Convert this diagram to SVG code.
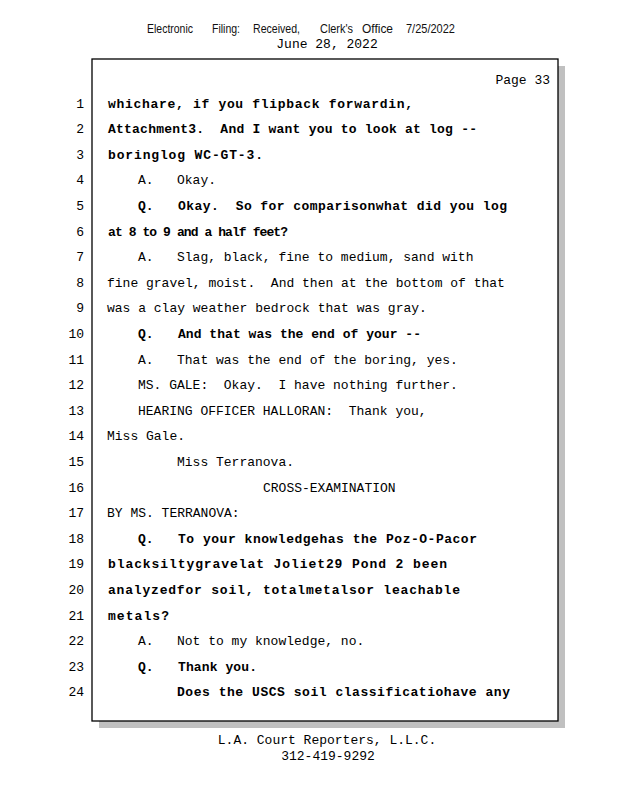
<svg xmlns="http://www.w3.org/2000/svg" width="618" height="800" viewBox="0 0 618 800" xml:space="preserve">
<style>
text{white-space:pre}
.m{font-family:"Liberation Mono","DejaVu Sans Mono",monospace;font-size:13px;fill:#000}
.b{font-family:"Liberation Mono","DejaVu Sans Mono",monospace;font-size:13px;font-weight:bold;fill:#000}
.n{font-family:"Liberation Mono","DejaVu Sans Mono",monospace;font-size:13px;fill:#000;text-anchor:end}
.h{font-family:"Liberation Sans",Arial,sans-serif;font-size:13px;fill:#111}
</style>
<rect width="618" height="800" fill="#fff"/>
<g id="header">
<text class="h" x="147" y="33" textLength="46" lengthAdjust="spacingAndGlyphs">Electronic</text>
<text class="h" x="212" y="33" textLength="28" lengthAdjust="spacingAndGlyphs">Filing:</text>
<text class="h" x="253" y="33" textLength="47" lengthAdjust="spacingAndGlyphs">Received,</text>
<text class="h" x="320" y="33" textLength="33" lengthAdjust="spacingAndGlyphs">Clerk's</text>
<text class="h" x="362" y="33" textLength="31" lengthAdjust="spacingAndGlyphs">Office</text>
<text class="h" x="406" y="33" textLength="49" lengthAdjust="spacingAndGlyphs">7/25/2022</text>
<text class="m" x="327" y="48" text-anchor="middle">June 28, 2022</text>
</g>
<g id="page-box">
<rect x="99" y="66" width="466" height="662" fill="#c0c0c0"/>
<rect x="92" y="59" width="466" height="662" fill="#fff" stroke="#000" stroke-width="1.3"/>
<text class="m" x="550" y="84" text-anchor="end">Page 33</text>
</g>
<g id="line-numbers">
<text class="n" x="84" y="107.5">1</text>
<text class="n" x="84" y="133.1">2</text>
<text class="n" x="84" y="158.7">3</text>
<text class="n" x="84" y="184.3">4</text>
<text class="n" x="84" y="209.9">5</text>
<text class="n" x="84" y="235.5">6</text>
<text class="n" x="84" y="261.1">7</text>
<text class="n" x="84" y="286.7">8</text>
<text class="n" x="84" y="312.3">9</text>
<text class="n" x="84" y="337.9">10</text>
<text class="n" x="84" y="363.5">11</text>
<text class="n" x="84" y="389.1">12</text>
<text class="n" x="84" y="414.7">13</text>
<text class="n" x="84" y="440.3">14</text>
<text class="n" x="84" y="465.9">15</text>
<text class="n" x="84" y="491.5">16</text>
<text class="n" x="84" y="517.1">17</text>
<text class="n" x="84" y="542.7">18</text>
<text class="n" x="84" y="568.3">19</text>
<text class="n" x="84" y="593.9">20</text>
<text class="n" x="84" y="619.5">21</text>
<text class="n" x="84" y="645.1">22</text>
<text class="n" x="84" y="670.7">23</text>
<text class="n" x="84" y="696.3">24</text>
</g>
<g id="transcript">
<text class="b" x="108" y="107.5" textLength="305" lengthAdjust="spacing">whichare, if you flipback forwardin,</text>
<text class="b" x="108" y="133.1" textLength="369" lengthAdjust="spacing">Attachment3.  And I want you to look at log --</text>
<text class="b" x="108" y="158.7" textLength="155" lengthAdjust="spacing">boringlog WC-GT-3.</text>
<text class="m" x="138" y="184.3">A.   Okay.</text>
<text class="b" x="138" y="209.9">Q.</text>
<text class="b" x="178" y="209.9" textLength="329" lengthAdjust="spacing">Okay.  So for comparisonwhat did you log</text>
<text class="b" x="108" y="235.5" textLength="180" lengthAdjust="spacing">at 8 to 9 and a half feet?</text>
<text class="m" x="138" y="261.1">A.   Slag, black, fine to medium, sand with</text>
<text class="m" x="107" y="286.7">fine gravel, moist.  And then at the bottom of that</text>
<text class="m" x="107" y="312.3">was a clay weather bedrock that was gray.</text>
<text class="b" x="138" y="337.9">Q.</text>
<text class="b" x="178" y="337.9" textLength="243" lengthAdjust="spacing">And that was the end of your --</text>
<text class="m" x="138" y="363.5">A.   That was the end of the boring, yes.</text>
<text class="m" x="138" y="389.1">MS. GALE:  Okay.  I have nothing further.</text>
<text class="m" x="138" y="414.7">HEARING OFFICER HALLORAN:  Thank you,</text>
<text class="m" x="107" y="440.3">Miss Gale.</text>
<text class="m" x="177" y="465.9">Miss Terranova.</text>
<text class="m" x="263" y="491.5">CROSS-EXAMINATION</text>
<text class="m" x="107" y="517.1">BY MS. TERRANOVA:</text>
<text class="b" x="138" y="542.7">Q.</text>
<text class="b" x="178" y="542.7" textLength="299" lengthAdjust="spacing">To your knowledgehas the Poz-O-Pacor</text>
<text class="b" x="108" y="568.3" textLength="339" lengthAdjust="spacing">blacksiltygravelat Joliet29 Pond 2 been</text>
<text class="b" x="108" y="593.9" textLength="352" lengthAdjust="spacing">analyzedfor soil, totalmetalsor leachable</text>
<text class="b" x="108" y="619.5" textLength="61" lengthAdjust="spacing">metals?</text>
<text class="m" x="138" y="645.1">A.   Not to my knowledge, no.</text>
<text class="b" x="138" y="670.7">Q.</text>
<text class="b" x="178" y="670.7" textLength="79" lengthAdjust="spacing">Thank you.</text>
<text class="b" x="177" y="696.3" textLength="333" lengthAdjust="spacing">Does the USCS soil classificatiohave any</text>
</g>
<g id="footer">
<text class="m" x="327" y="744" text-anchor="middle">L.A. Court Reporters, L.L.C.</text>
<text class="m" x="328" y="760" text-anchor="middle">312-419-9292</text>
</g>
</svg>
